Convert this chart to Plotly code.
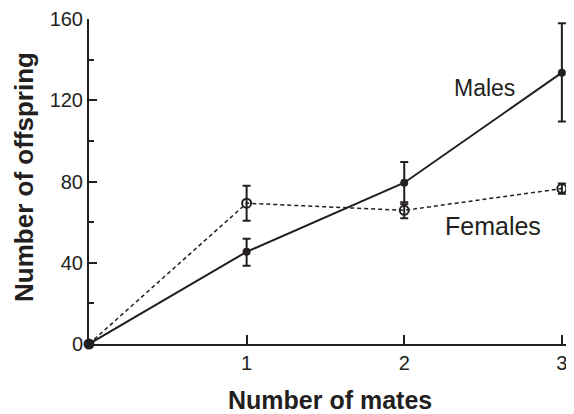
import plotly.graph_objects as go

mates = [0, 1, 2, 3]
males = [0, 45.4, 79.4, 133.6]
males_err_plus = [0, 6.4, 10.2, 24.3]
males_err_minus = [0, 6.9, 9.6, 24.0]
females = [0, 69.3, 65.8, 76.5]
females_err_plus = [0, 8.6, 3.0, 2.5]
females_err_minus = [0, 8.6, 3.9, 2.5]
y_ticks = [0, 40, 80, 120, 160]
x_ticks = [1, 2, 3]

ink = "#231f20"
font = "Liberation Sans, Arial, Helvetica, sans-serif"

fig = go.Figure()
fig.add_trace(go.Scatter(
    x=mates, y=females, mode="lines+markers", name="Females",
    line=dict(color=ink, width=1.5, dash="4px,3px"),
    marker=dict(symbol="circle-open", size=9, color=ink, line=dict(width=2, color=ink)),
    error_y=dict(type="data", array=females_err_plus, arrayminus=females_err_minus,
                 color=ink, thickness=2, width=4),
    cliponaxis=False,
))
fig.add_trace(go.Scatter(
    x=mates, y=males, mode="lines+markers", name="Males",
    line=dict(color=ink, width=2),
    marker=dict(symbol="circle", size=8, color=ink),
    error_y=dict(type="data", array=males_err_plus, arrayminus=males_err_minus,
                 color=ink, thickness=2, width=4),
    cliponaxis=False,
))

fig.add_annotation(x=2.51, y=126, text="Males", showarrow=False,
                   font=dict(family=font, size=23, color=ink))
fig.add_annotation(x=2.56, y=58, text="Females", showarrow=False,
                   font=dict(family=font, size=25, color=ink))

# axis titles
fig.add_annotation(xref="paper", yref="paper", x=0.497, y=-0.172, xanchor="center", yanchor="middle",
                   text="<b>Number of mates</b>", showarrow=False,
                   font=dict(family=font, size=25, color=ink))
fig.add_annotation(xref="paper", yref="paper", x=-0.134, y=0.514, xanchor="center", yanchor="middle",
                   text="<b>Number of offspring</b>", showarrow=False, textangle=-90,
                   font=dict(family=font, size=26, color=ink))

fig.update_layout(
    width=566, height=406,
    margin=dict(l=81, r=0, t=11, b=70, autoexpand=False),
    paper_bgcolor="white", plot_bgcolor="white",
    showlegend=False,
    font=dict(family=font, color=ink),
    xaxis=dict(
        range=[0, 3.077], tickvals=x_ticks, ticktext=[str(v) for v in x_ticks],
        ticks="inside", ticklen=9, tickwidth=2, tickcolor=ink,
        showline=True, linewidth=2, linecolor=ink, showgrid=False, zeroline=False,
        tickfont=dict(size=20, family=font, color=ink), automargin=False,
    ),
    yaxis=dict(
        range=[0, 160], tickvals=y_ticks, ticktext=[str(v) for v in y_ticks],
        ticks="inside", ticklen=8, tickwidth=2, tickcolor=ink,
        minor=dict(dtick=20, tick0=0, ticks="inside", ticklen=5, tickwidth=2, tickcolor=ink, showgrid=False),
        showline=True, linewidth=2, linecolor=ink, showgrid=False, zeroline=False,
        tickfont=dict(size=20, family=font, color=ink), automargin=False,
    ),
)

fig.write_html("out.html")
